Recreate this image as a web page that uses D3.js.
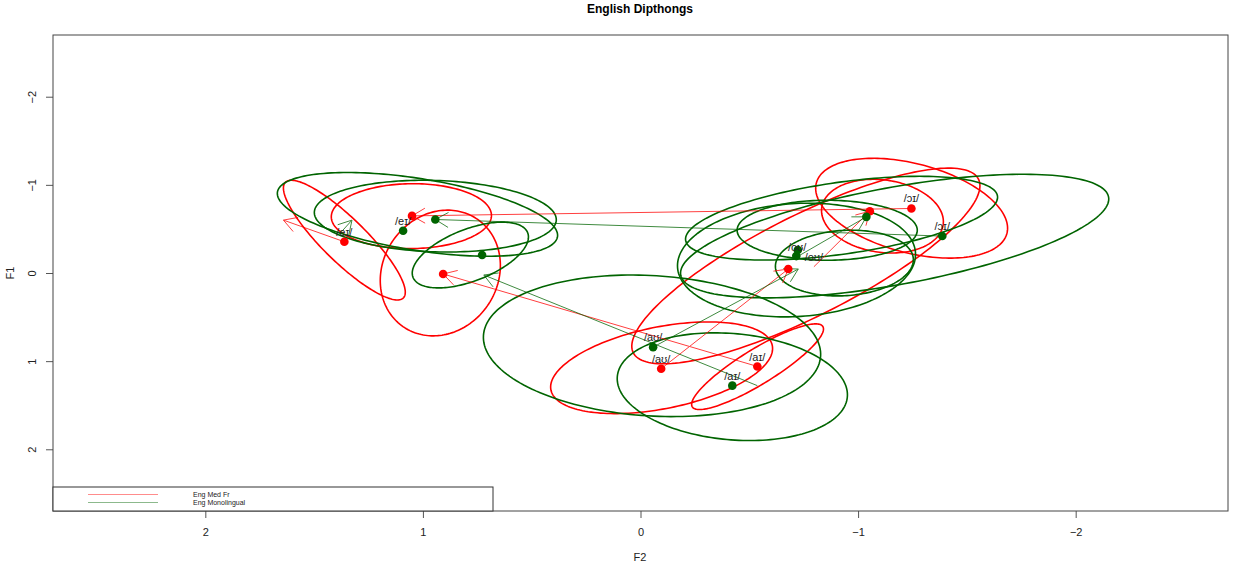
<!DOCTYPE html>
<html>
<head>
<meta charset="utf-8">
<script src="https://cdn.jsdelivr.net/npm/d3@7"></script>
<style>
  body { margin: 0; background: #fff; }
  text { font-family: "Liberation Sans", Arial, sans-serif; }
</style>
</head>
<body>
<div id="chart"></div>
<script>
// mean points (F2, F1), normalised
var redPoints = [
  [1.361, -0.354], [1.050, -0.648], [0.907, 0.011], [-0.095, 1.086],
  [-0.537, 1.060], [-0.679, -0.045], [-1.054, -0.701], [-1.245, -0.732]
];
var greenPoints = [
  [1.091, -0.479], [0.943, -0.607], [0.728, -0.204], [-0.058, 0.841],
  [-0.422, 1.278], [-0.723, -0.260], [-0.716, -0.192], [-1.038, -0.637],
  [-1.387, -0.419]
];

// onset -> offset arrows [x0, y0, x1, y1]
var redArrows = [
  [1.361, -0.354, 1.641, -0.600],
  [-1.245, -0.732, 1.050, -0.648],
  [-0.537, 1.060, 0.907, 0.011],
  [-0.095, 1.086, -0.679, -0.045],
  [-0.797, -0.071, -1.054, -0.701]
];
var greenArrows = [
  [1.384, -0.441, 1.326, -0.600],
  [-1.387, -0.419, 0.943, -0.607],
  [-0.537, 1.278, 0.720, 0.023],
  [-0.058, 0.841, -0.725, -0.045],
  [-0.720, -0.184, -1.038, -0.637]
];

// ellipses [cx, cy, sdx, sdy, r]
var redEllipses = [
  [1.361, -0.373, 0.280, 0.679, -0.87],
  [1.053, -0.645, 0.368, 0.368, 0.02],
  [0.920, 0.000, 0.276, 0.713, 0.12],
  [-0.097, 1.075, 0.510, 0.520, 0.42],
  [-0.538, 1.063, 0.303, 0.486, 0.88],
  [-0.760, -0.080, 0.800, 1.110, 0.82],
  [-1.112, -0.645, 0.280, 0.418, -0.15],
  [-1.246, -0.735, 0.441, 0.566, -0.40]
];
var greenEllipses = [
  [1.025, -0.665, 0.644, 0.475, -0.50],
  [0.943, -0.645, 0.556, 0.407, -0.10],
  [0.782, -0.204, 0.267, 0.373, 0.55],
  [-0.053, 0.826, 0.775, 0.803, -0.12],
  [-0.422, 1.290, 0.529, 0.611, -0.15],
  [-0.717, -0.147, 0.547, 0.645, 0.10],
  [-0.924, -0.622, 0.717, 0.475, 0.50],
  [-1.168, -0.419, 0.984, 0.701, 0.60],
  [-0.858, -0.485, 0.414, 0.340, 0.00],
  [-0.937, -0.113, 0.317, 0.373, 0.10]
];

// vowel labels at onsets
var labelText = ["/eɪ/", "/eɪ/", "/aʊ/", "/aʊ/", "/aɪ/", "/aɪ/", "/oʊ/", "/oʊ/", "/ɔɪ/", "/ɔɪ/"];
var labelX = [1.361, 1.091, -0.058, -0.095, -0.537, -0.422, -0.720, -0.797, -1.245, -1.387];
var labelY = [-0.351, -0.479, 0.841, 1.086, 1.063, 1.278, -0.184, -0.071, -0.732, -0.419];

var xTicks = [2, 1, 0, -1, -2];
var yTicks = [-2, -1, 0, 1, 2];
var legendNames = ["Eng Med Fr", "Eng Monolingual"];

var red = "#ff0000", green = "#006400";

var width = 1233, height = 569;
var svg = d3.select("#chart").append("svg")
  .attr("width", width).attr("height", height);

var x = d3.scaleLinear().domain([2.7, -2.7]).range([53, 1228]);
var y = d3.scaleLinear().domain([-2.7, 2.7]).range([35, 511]);

// title
svg.append("text").attr("x", 640).attr("y", 13)
  .attr("text-anchor", "middle").style("font-weight", "bold").style("font-size", "12px")
  .text("English Dipthongs");

// axes
var xAxis = svg.append("g").attr("transform", "translate(0,511)")
  .call(d3.axisBottom(x).tickValues(xTicks).tickSize(7).tickPadding(10).tickFormat(d3.format("d")));
var yAxis = svg.append("g").attr("transform", "translate(53,0)")
  .call(d3.axisLeft(y).tickValues(yTicks).tickSize(7).tickFormat(d3.format("d")));
svg.selectAll(".domain").remove();
svg.selectAll(".tick line").attr("stroke", "#555");
svg.selectAll(".tick text").style("font-size", "11px").attr("fill", "#222")
  .style("font-family", "'Liberation Sans', Arial, sans-serif");
yAxis.selectAll(".tick").each(function(d) {
  d3.select(this).select("text")
    .attr("x", 0).attr("y", 0).attr("dy", "0.35em")
    .attr("text-anchor", "middle")
    .attr("transform", "translate(-21,0) rotate(-90)");
});

svg.append("text").attr("x", 640).attr("y", 561).attr("text-anchor", "middle")
  .style("font-size", "11px").attr("fill", "#222").text("F2");
svg.append("text").attr("transform", "translate(14,273) rotate(-90)")
  .attr("text-anchor", "middle").style("font-size", "11px").attr("fill", "#222").text("F1");

// plot frame
svg.append("rect").attr("x", 53).attr("y", 35).attr("width", 1175).attr("height", 476)
  .attr("fill", "none").attr("stroke", "#444").attr("stroke-width", 1);

var plot = svg.append("g");

function ellipsePath(e) {
  var d = Math.acos(e[4]);
  var pts = d3.range(0, 2 * Math.PI + 0.01, Math.PI / 90).map(function(t) {
    return [x(e[0] + e[2] * Math.cos(t + d / 2)), y(e[1] + e[3] * Math.cos(t - d / 2))];
  });
  return d3.line()(pts) + "Z";
}

function drawEllipses(list, col) {
  plot.selectAll(null).data(list).enter().append("path")
    .attr("d", ellipsePath)
    .attr("fill", "none").attr("stroke", col).attr("stroke-width", 1.6);
}
drawEllipses(redEllipses, red);
drawEllipses(greenEllipses, green);

function drawArrows(list, col) {
  var g = plot.append("g").attr("stroke", col).attr("stroke-width", 1).attr("opacity", 0.75).attr("fill", "none");
  list.forEach(function(a) {
    var x0 = x(a[0]), y0 = y(a[1]), x1 = x(a[2]), y1 = y(a[3]);
    var ang = Math.atan2(y1 - y0, x1 - x0), len = 15, sp = Math.PI / 6;
    g.append("line").attr("x1", x0).attr("y1", y0).attr("x2", x1).attr("y2", y1);
    g.append("path").attr("d",
      "M" + (x1 - len * Math.cos(ang - sp)) + "," + (y1 - len * Math.sin(ang - sp)) +
      "L" + x1 + "," + y1 +
      "L" + (x1 - len * Math.cos(ang + sp)) + "," + (y1 - len * Math.sin(ang + sp)));
  });
}
drawArrows(redArrows, red);
drawArrows(greenArrows, green);

function drawPoints(list, col) {
  plot.selectAll(null).data(list).enter().append("circle")
    .attr("cx", function(d) { return x(d[0]); })
    .attr("cy", function(d) { return y(d[1]); })
    .attr("r", 4.3).attr("fill", col);
}
drawPoints(redPoints, red);
drawPoints(greenPoints, green);

plot.selectAll(null).data(labelText).enter().append("text")
  .attr("x", function(d, i) { return x(labelX[i]); })
  .attr("y", function(d, i) { return y(labelY[i]) - 6; })
  .attr("text-anchor", "middle").style("font-size", "11px").attr("fill", "#222")
  .text(function(d) { return d; });

// legend
var lg = svg.append("g");
lg.append("rect").attr("x", 53).attr("y", 487).attr("width", 440).attr("height", 24)
  .attr("fill", "#fff").attr("stroke", "#333").attr("stroke-width", 1);
legendNames.forEach(function(n, i) {
  var ly = 494.5 + i * 8;
  lg.append("line").attr("x1", 88).attr("x2", 158).attr("y1", ly).attr("y2", ly)
    .attr("stroke", i === 0 ? red : green).attr("stroke-opacity", 0.45).attr("stroke-width", 1);
  lg.append("text").attr("x", 193).attr("y", ly + 2.5).style("font-size", "7px")
    .attr("fill", "#222").text(n);
});
</script>
</body>
</html>
